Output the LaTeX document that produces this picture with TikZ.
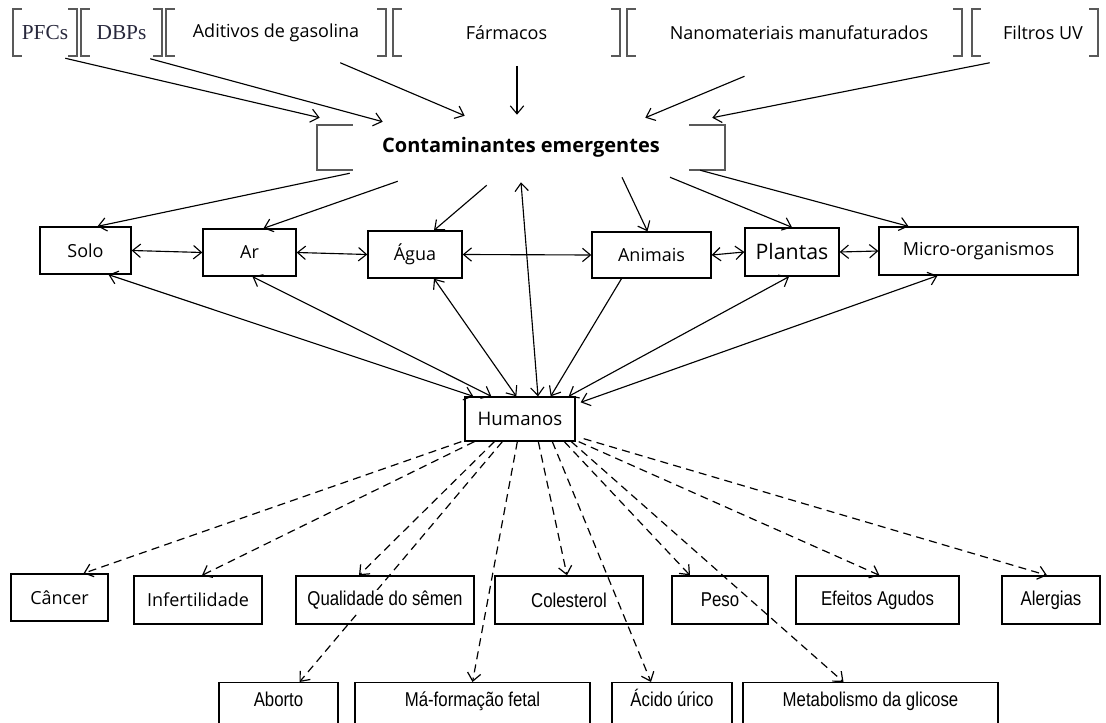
\documentclass[tikz,border=0pt]{standalone}
\usepackage{fontspec}
\setmainfont{Open Sans}
\newfontfamily\narrowf[FakeStretch=0.84]{Liberation Sans}
\newfontfamily\seriff{Liberation Serif}
\usetikzlibrary{arrows.meta,calc}
\pgfdeclarelayer{background}
\pgfdeclarelayer{bg}
\pgfsetlayers{background,bg,main}
\definecolor{serifc}{RGB}{40,40,60}
\newcommand\drawbrk[2]{%
  \draw[brk] ([xshift=#2]#1.north west) -| (#1.south west) -- ([xshift=#2]#1.south west);
  \draw[brk] ([xshift=-#2]#1.north east) -| (#1.south east) -- ([xshift=-#2]#1.south east);}
\tikzset{
  box/.style={draw, line width=1pt, inner sep=0pt},
  nbox/.style={draw, line width=1pt, inner sep=0pt, font=\narrowf\fontsize{15}{18}\selectfont},
  low/.style={nbox, anchor=north, text height=17.6pt, text depth=37.5pt},
  grp/.style={inner sep=0pt, minimum height=35.25pt},
  brk/.style={draw=black!65, line width=1.4pt},
  arr/.style={line width=0.85pt, -{Straight Barb[length=6pt,width=10pt]}},
  darr/.style={line width=0.85pt, {Straight Barb[length=6pt,width=10pt]}-{Straight Barb[length=6pt,width=10pt]}},
  dsh/.style={arr, line width=0.9pt, dash pattern=on 6pt off 4pt},
  sft/.style={font=\seriff\fontsize{16}{18}\selectfont, text=serifc}
}
\begin{document}
\begin{tikzpicture}[x=0.75pt,y=-0.75pt,font=\fontsize{13.5}{16}\selectfont]
\begin{pgfonlayer}{background}
\fill[white] (0,0) rectangle (1106,723);
\end{pgfonlayer}
\useasboundingbox (0,0) rectangle (1106,723);

% top row
\node[grp, sft, minimum width=48pt] (pfc) at (45,32.5) {PFCs};
\node[grp, sft, minimum width=60.75pt] (dbp) at (121.5,32.5) {DBPs};
\node[grp, minimum width=165pt] (adi) at (276,32.5) {Aditivos de gasolina};
\node[grp, minimum width=170.25pt] (far) at (506.5,32.5) {Fármacos};
\node[grp, minimum width=251.25pt] (nano) at (794.5,32.5) {\hspace{6.75pt}Nanomateriais manufaturados};
\node[grp, minimum width=94.5pt] (fil) at (1035,32.5) {\hspace{12pt}Filtros UV};
\foreach \n in {pfc,dbp,adi,far,nano,fil}{\drawbrk{\n}{6.75pt}}

% central
\node[grp, minimum width=306pt, minimum height=33.75pt, font=\bfseries\fontsize{15}{18}\selectfont] (cont) at (521,147.5) {Contaminantes emergentes};
\drawbrk{cont}{27pt}

% middle row
\node[box, minimum width=68.25pt, minimum height=35.25pt] (solo) at (85.5,250.5) {Solo\hspace{6pt}};
\node[box, minimum width=69.75pt, minimum height=35.25pt] (ar) at (249.5,252.5) {Ar};
\node[box, minimum width=70.5pt, minimum height=35.25pt] (agua) at (415,254.5) {Água};
\node[box, minimum width=89.25pt, minimum height=34.5pt] (ani) at (651.5,255) {Animais};
\node[box, minimum width=70.5pt, minimum height=36pt, font=\fontsize{16}{19}\selectfont] (pla) at (792,252) {Plantas};
\node[box, minimum width=149.25pt, minimum height=36pt] (mic) at (978.5,251) {Micro-organismos};

\node[box, minimum width=82.5pt, minimum height=33pt, font=\fontsize{14}{17}\selectfont] (hum) at (520,419) {Humanos};

% bottom row 1
\node[box, minimum width=72.75pt, minimum height=35.25pt] (can) at (59.5,597.5) {Câncer};
\node[box, minimum width=96pt, minimum height=36pt] (inf) at (198,600) {Infertilidade};
\node[nbox, minimum width=133.5pt, minimum height=36pt] (qual) at (385,600) {\setlength{\fboxsep}{1pt}\colorbox{white}{Qualidade do sêmen}};
\node[nbox, minimum width=111pt, minimum height=36pt] (col) at (569,600) {\setlength{\fboxsep}{1pt}\colorbox{white}{Colesterol}};
\node[nbox, minimum width=72pt, minimum height=36pt] (pes) at (720,600) {Peso};
\node[nbox, minimum width=122.25pt, minimum height=36pt] (efe) at (877.5,600) {Efeitos Agudos};
\node[nbox, minimum width=73.5pt, minimum height=36pt] (ale) at (1051,600) {Alergias};

% bottom row 2
\node[low, minimum width=89.25pt] (abo) at (278.5,682) {Aborto};
\node[low, minimum width=176.25pt] (ma) at (472.5,682) {Má-formação fetal};
\node[low, minimum width=90pt] (aci) at (672,682) {Ácido úrico};
\node[low, minimum width=191.25pt] (met) at (870.5,682) {Metabolismo da glicose};

% top arrows
\draw[arr] ($(pfc.south east)+(-12,2)$) -- ($(cont.north west)+(3,-7)$);
\draw[arr] ($(dbp.south east)+(-12,2.5)$) -- ($(cont.north west)+(66,-3)$);
\draw[arr] ($(adi.south east)+(-46,6.5)$) -- ($(cont.north west)+(148,-9)$);
\draw[arr] ($(far.south)+(10.5,9.5)$) -- ($(cont.north)+(-4,-10)$);
\draw[arr] ($(nano.south)+(-50,20)$) -- ($(cont.north east)+(-80,-7)$);
\draw[arr] ($(fil.south west)+(18,6.5)$) -- ($(cont.north east)+(-13,-7)$);

% central to row
\draw[arr] ($(cont.south west)+(33,3)$) -- ($(solo.north)+(12,0)$);
\draw[arr] ($(cont.south west)+(81,11)$) -- ($(ar.north)+(14,0)$);
\draw[arr] ($(cont.south west)+(170,15)$) -- ($(agua.north)+(19,0)$);
\draw[darr] ($(cont.south)+(0,12)$) -- ($(hum.north)+(18,0)$);
\draw[arr] ($(cont.south)+(101,7)$) -- ($(ani.north)+(-4,0)$);
\draw[arr] ($(cont.south)+(149,7)$) -- (pla.north);
\draw[arr] ($(cont.south east)+(-25,0)$) -- ($(mic.north)+(-70,0)$);

% row links
\draw[darr] (solo.east) -- (ar.west);
\draw[darr] (ar.east) -- (agua.west);
\draw[darr] (agua.east) -- (ani.west);
\draw[darr] (ani.east) -- (pla.west);
\draw[darr] (pla.east) -- (mic.west);

% row to humans
\draw[darr] ($(solo.south)+(23,0)$) -- ($(hum.north west)+(9,0)$);
\draw[darr] ($(ar.south)+(3,0)$) -- ($(hum.north west)+(27,0)$);
\draw[darr] ($(agua.south)+(19,0)$) -- ($(hum.north west)+(52,0)$);
\draw[arr] ($(ani.south)+(-30,0)$) -- ($(hum.north east)+(-25,0)$);
\draw[darr] ($(pla.south)+(-3,0)$) -- ($(hum.north east)+(-7,0)$);
\draw[darr] ($(mic.south)+(-41,0)$) -- ($(hum.north east)+(5,6)$);

% effects (dashed)
\begin{pgfonlayer}{bg}
\draw[dsh] ($(hum.south west)+(-3,0)$) -- ($(can.north)+(24,0)$);
\draw[dsh] ($(hum.south west)+(10,0)$) -- ($(inf.north)+(4,0)$);
\draw[dsh] ($(hum.south west)+(30,0)$) -- ($(qual.north)+(-26,0)$);
\draw[dsh] ($(hum.south west)+(38,0)$) -- ($(abo.north)+(21,0)$);
\draw[dsh] ($(hum.south west)+(53,0)$) -- (ma.north);
\draw[dsh] ($(hum.south west)+(74,0)$) -- ($(col.north)+(-2,0)$);
\draw[dsh] ($(hum.south west)+(88,0)$) -- ($(aci.north)+(-21,0)$);
\draw[dsh] ($(hum.south west)+(100,0)$) -- ($(pes.north)+(-30,0)$);
\draw[dsh] ($(hum.south west)+(107,0)$) -- ($(met.north)+(-27,0)$);
\draw[dsh] ($(hum.south east)+(3,0)$) -- ($(efe.north)+(2,0)$);
\draw[dsh] ($(hum.south east)+(8,-3)$) -- ($(ale.north)+(-4,0)$);
\end{pgfonlayer}
\end{tikzpicture}
\end{document}
